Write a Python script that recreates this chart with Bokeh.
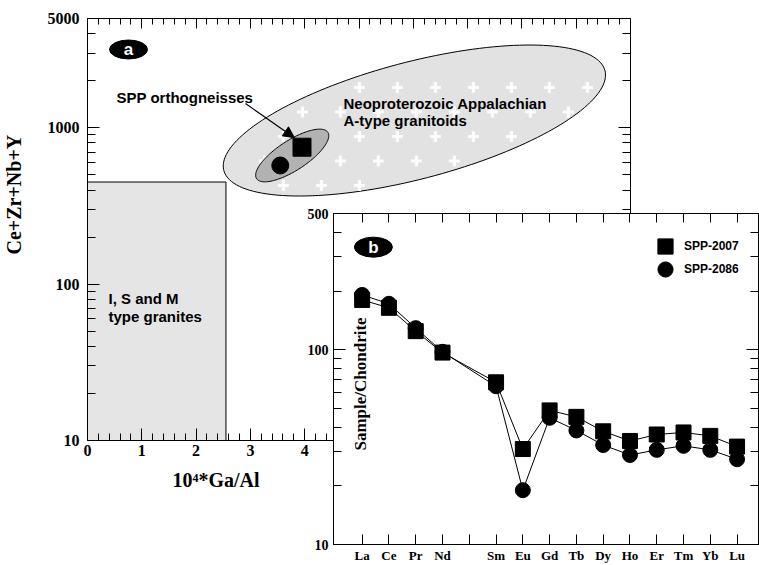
import math
import numpy as np
from bokeh.plotting import figure
from bokeh.models import (FixedTicker, LinearAxis, LogAxis, Label, Arrow, NormalHead, Title,
                          NumeralTickFormatter, Legend, LegendItem, CustomLabelingPolicy,
                          CustomJSTickFormatter)
from bokeh.layouts import column
from bokeh.embed import file_html
from bokeh.resources import INLINE

# ---------------- data: panel a (Whalen-type discrimination) ----------------
sample_names = ["SPP-2007", "SPP-2086"]
sample_ga_al = [3.95, 3.55]          # 10^4*Ga/Al
sample_zr_sum = [751, 574]           # Ce+Zr+Nb+Y
ism_ga_al = [0.0, 2.55]              # I, S and M type granite field (x extent)
ism_sum = [10, 450]                  # (y extent)
atype_center = [6.02, 1113]          # Neoproterozoic Appalachian A-type field centre
spp_center = [3.77, 665]             # SPP orthogneisses field centre

a_xticks = [0, 1, 2, 3, 4, 5, 6, 7, 8, 9, 10]
a_yticks = [10, 100, 1000, 5000]

# ---------------- data: panel b (REE chondrite-normalised) ----------------
ree = ["La", "Ce", "Pr", "Nd", "Pm", "Sm", "Eu", "Gd", "Tb", "Dy", "Ho", "Er", "Tm", "Yb", "Lu"]
spp2007 = [180, 164, 124.5, 96.6, None, 68, 30.9, 48.8, 45.2, 38.1, 34.0, 36.7, 37.6, 36.1, 31.8]
spp2086 = [191, 172, 129, 97.5, None, 64.9, 19.0, 44.7, 38.5, 32.4, 28.8, 30.6, 32.1, 30.6, 27.4]
b_yticks = [10, 100, 500]

SANS = "Liberation Sans"
SERIF = "Liberation Serif"

# pixel scale of panel a frame (543 x 422 px)
A_FW, A_FH = 543, 422
PX_X = A_FW / 10.0
PX_DEC = A_FH / math.log10(5000 / 10)
LEFT = 107      # left border of both panels (canvas of panel a starts 20px off-page)


def ellipse_poly(center, a_px, b_px, ang_deg, n=160):
    t = np.linspace(0, 2 * np.pi, n)
    th = math.radians(ang_deg)
    dx = a_px * np.cos(t) * math.cos(th) - b_px * np.sin(t) * math.sin(th)
    dy = a_px * np.cos(t) * math.sin(th) + b_px * np.sin(t) * math.cos(th)
    xs = center[0] + dx / PX_X
    ys = 10 ** (math.log10(center[1]) + dy / PX_DEC)
    return [float(v) for v in xs], [float(v) for v in ys]


def style_axis(ax, size, standoff, show=True, major_in=11, minor_in=7):
    ax.major_tick_in = major_in
    ax.major_tick_out = 0
    ax.minor_tick_in = minor_in
    ax.minor_tick_out = 0
    ax.axis_line_color = "black"
    ax.major_tick_line_color = "black"
    ax.minor_tick_line_color = "black"
    ax.major_label_text_font = SERIF
    ax.major_label_text_font_style = "bold"
    ax.major_label_text_color = "black"
    if show:
        ax.major_label_text_font_size = size
        ax.major_label_standoff = standoff
    else:
        ax.major_label_text_font_size = "1px"
        ax.major_label_standoff = 0
        ax.formatter = CustomJSTickFormatter(code="return ''")
        ax.major_label_policy = CustomLabelingPolicy(code="return new Set()")


# ======================= panel a =======================
p1 = figure(width=LEFT + A_FW + 1, height=502, x_range=(0, 10), y_range=(10, 5000),
            y_axis_type="log", output_backend="svg", toolbar_location=None,
            min_border_left=LEFT, min_border_right=1, min_border_top=18, min_border_bottom=62)
p1.margin = (0, 0, 0, 87 - LEFT)
p1.xgrid.visible = False
p1.ygrid.visible = False
p1.outline_line_color = "black"
p1.background_fill_color = "white"
p1.border_fill_color = "white"

x_minor = [i * 0.2 for i in range(51) if i % 5 != 0]
y_minor = [m * d for d in (10, 100, 1000) for m in range(2, 10) if m * d < 5000]

xt = FixedTicker(ticks=a_xticks, minor_ticks=x_minor)
yt = FixedTicker(ticks=a_yticks, minor_ticks=y_minor)
p1.xaxis.ticker = xt
p1.yaxis.ticker = yt
p1.yaxis.formatter = NumeralTickFormatter(format="0")
style_axis(p1.xaxis[0], "16px", 4, major_in=12, minor_in=7)
style_axis(p1.yaxis[0], "16px", 8, major_in=12, minor_in=8)
top_ax = LinearAxis(ticker=xt)
style_axis(top_ax, None, 0, show=False, major_in=10, minor_in=6)
p1.add_layout(top_ax, "above")
right_ax = LogAxis(ticker=yt)
style_axis(right_ax, None, 0, show=False, major_in=12, minor_in=8)
p1.add_layout(right_ax, "right")

# axis titles
p1.add_layout(Title(text="Ce+Zr+Nb+Y", align="left", offset=186, standoff=35,
                    vertical_align="top",
                    text_font=SERIF, text_font_style="bold", text_font_size="20px",
                    text_color="black"), "left")
p1.add_layout(Title(text="10\u2074*Ga/Al", align="left", offset=85, standoff=16,
                    text_font=SERIF, text_font_style="bold", text_font_size="20px",
                    text_color="black"), "below")

# I, S and M field
p1.quad(left=[ism_ga_al[0]], right=[ism_ga_al[1]], bottom=[ism_sum[0]], top=[ism_sum[1]],
        fill_color="#e5e5e6", line_color="black", line_width=1)

# A-type field ellipse with white-cross texture
bx, by = ellipse_poly(atype_center, 197, 58.5, 14.7)
p1.patch(bx, by, fill_color="#e2e2e3", line_color="black", line_width=1)
cx_list, cy_list = [], []
th = math.radians(14.7)
for j in range(0, 5):
    dy_up = (120 - 87) - 24.5 * j
    off = 19 if j % 2 else 0
    for k in range(-7, 7):
        dx = (397 - 414) + 38 * k + off
        u = dx * math.cos(th) + dy_up * math.sin(th)
        v = -dx * math.sin(th) + dy_up * math.cos(th)
        if (u / 197) ** 2 + (v / 58.5) ** 2 < 0.9:
            cx_list.append(atype_center[0] + dx / PX_X)
            cy_list.append(10 ** (math.log10(atype_center[1]) + dy_up / PX_DEC))
p1.scatter(cx_list, cy_list, marker="cross", size=11, line_color="white", line_width=3.2,
           line_alpha=0.9)

# SPP orthogneisses field
sx, sy = ellipse_poly(spp_center, 42.5, 15, 33)
p1.patch(sx, sy, fill_color="#b2b2b2", line_color="black", line_width=1)

# samples
p1.scatter([sample_ga_al[0]], [sample_zr_sum[0]], marker="square", size=18, color="black")
p1.scatter([sample_ga_al[1]], [sample_zr_sum[1]], marker="circle", size=17, color="black")

p1.add_layout(Arrow(end=NormalHead(size=11, fill_color="black", line_color="black"),
                    x_start=2.91, y_start=1429, x_end=3.81, y_end=865,
                    line_color="black", line_width=1.2))

# panel label a
p1.ellipse(x=[0.755], y=[3168], width=38, height=19, width_units="screen",
           height_units="screen", fill_color="black", line_color="black")
p1.add_layout(Label(x=0.755, y=3168, text="a", text_font=SANS, text_font_style="bold",
                    text_font_size="17px", text_color="white", text_align="center",
                    text_baseline="middle"))


def sans_label(fig, x, y, text, size="15px"):
    fig.add_layout(Label(x=x, y=y, text=text, text_font=SANS, text_font_style="bold",
                         text_font_size=size, text_color="black", text_align="left",
                         text_baseline="alphabetic"))


sans_label(p1, 0.534, 1563, "SPP orthogneisses")
sans_label(p1, 4.715, 1435, "Neoproterozoic Appalachian")
sans_label(p1, 4.715, 1114, "A-type granitoids")
sans_label(p1, 0.387, 80.4, "I, S and M")
sans_label(p1, 0.387, 62.1, "type granites")

# ======================= panel b =======================
p2 = figure(width=LEFT + 425 + 1, height=360, x_range=(-1.07, 14.8), y_range=(10, 500),
            y_axis_type="log", output_backend="svg", toolbar_location=None,
            min_border_left=LEFT, min_border_right=1, min_border_top=8, min_border_bottom=18)
p2.xgrid.visible = False
p2.ygrid.visible = False
p2.outline_line_color = "black"
p2.background_fill_color = "white"
p2.border_fill_color = None
p2.margin = (205 - 502, 0, -8, 333 - LEFT)

bxt = FixedTicker(ticks=list(range(len(ree))))
b_minor = [m * d for d in (10, 100) for m in range(2, 10) if m * d < 500]
byt = FixedTicker(ticks=b_yticks, minor_ticks=b_minor)
p2.xaxis.ticker = bxt
p2.xaxis.major_label_overrides = {i: (name if name != "Pm" else " ") for i, name in enumerate(ree)}
p2.yaxis.ticker = byt
p2.yaxis.formatter = NumeralTickFormatter(format="0")
style_axis(p2.xaxis[0], "13px", 3, major_in=10, minor_in=0)
style_axis(p2.yaxis[0], "14px", 5, major_in=12, minor_in=8)
top_b = LinearAxis(ticker=bxt)
style_axis(top_b, None, 0, show=False, major_in=9, minor_in=0)
p2.add_layout(top_b, "above")
right_b = LogAxis(ticker=byt)
style_axis(right_b, None, 0, show=False, major_in=12, minor_in=8)
p2.add_layout(right_b, "right")

renderers = []
for vals, marker in ((spp2007, "square"), (spp2086, "circle")):
    idx = [i for i, v in enumerate(vals) if v is not None]
    yv = [vals[i] for i in idx]
    p2.line(idx, yv, line_color="black", line_width=1)
    renderers.append(p2.scatter(idx, yv, marker=marker, size=15, color="black"))

for name, rend, loc in ((sample_names[0], renderers[0], (313, 279)),
                        (sample_names[1], renderers[1], (313, 256))):
    p2.add_layout(Legend(items=[LegendItem(label=name, renderers=[rend])],
                         location=loc, glyph_width=38, glyph_height=38, spacing=0,
                         label_standoff=0, padding=0, margin=0, border_line_color=None,
                         background_fill_alpha=0, label_text_font=SANS,
                         label_text_font_style="bold", label_text_font_size="12px",
                         label_text_color="black"))

p2.ellipse(x=[0.42], y=[336], width=38, height=20, width_units="screen",
           height_units="screen", fill_color="black", line_color="black")
p2.add_layout(Label(x=0.42, y=336, text="b", text_font=SANS, text_font_style="bold",
                    text_font_size="17px", text_color="white", text_align="center",
                    text_baseline="middle"))
p2.add_layout(Label(x=-0.05, y=66.7, text="Sample/Chondrite", angle=math.pi / 2,
                    text_font=SERIF, text_font_style="bold", text_font_size="17px",
                    text_align="center", text_baseline="middle", text_color="black"))

layout = column(p1, p2)
open("out.html", "w").write(file_html(layout, INLINE))
